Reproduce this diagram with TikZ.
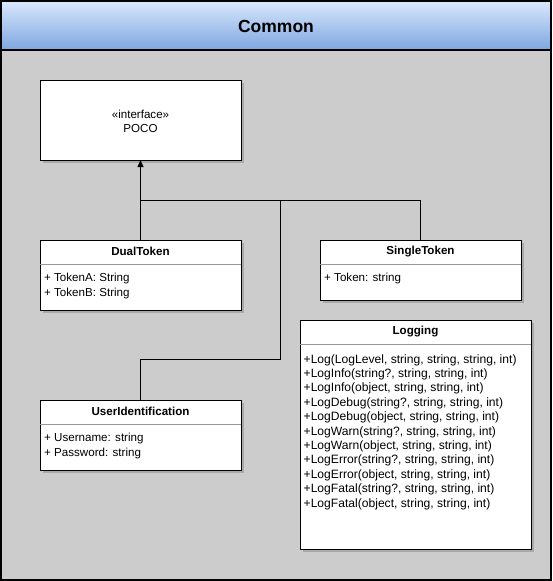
\documentclass[tikz,border=0pt]{standalone}
\usepackage{fontspec}
\setmainfont{Liberation Sans}
\usetikzlibrary{arrows.meta}
\definecolor{bg}{HTML}{CCCCCC}
\definecolor{hdtop}{HTML}{DAE8FC}
\definecolor{hdbot}{HTML}{7EA6E0}
\definecolor{shad}{HTML}{A9A9A9}
\definecolor{sep}{HTML}{999999}
\tikzset{
  cls/.style={draw=black, fill=white, line width=1pt},
  shadowbox/.style={fill=shad, draw=none},
  sepline/.style={draw=sep, line width=0.6pt},
  txt/.style={inner sep=0pt, font=\fontsize{11.6}{13}\selectfont},
  logtxt/.style={inner sep=0pt, font=\fontsize{12.1}{13}\selectfont},
  ttl/.style={inner sep=0pt, font=\fontsize{11.6}{13}\selectfont\bfseries},
  conn/.style={draw=black, line width=1pt},
}
\begin{document}
\begin{tikzpicture}[x=1pt, y=-1pt]
\useasboundingbox (0,0) rectangle (552,581);
% outer frame
\fill[bg] (0.75,0.75) rectangle (550.75,579.75);
\shade[top color=hdtop, bottom color=hdbot] (0.75,0.75) rectangle (550.75,50);
\draw[line width=1.5pt] (0.75,0.75) rectangle (550.75,579.75);
\draw[line width=1.5pt] (0.75,50) -- (550.75,50);
\node[inner sep=0pt, font=\fontsize{17.5}{20}\selectfont\bfseries] (title) at (276,26) {Common};

% shadows
\foreach \a/\b/\c/\d in {40/80/241/160, 40/240/241/310, 320/240/521/300, 300/320/531/549, 40/400/241/470}{
  \fill[shad] (\a+3,\b+3) rectangle (\c+3,\d+3);
}

% POCO
\draw[cls] (40,80) rectangle (241,160);
\node[inner sep=0pt, font=\fontsize{11.6}{13}\selectfont] (pocost) at (140.5,114) {«interface»};
\node[txt] (poco) at (140.5,128.5) {POCO};
\coordinate (pocob) at (140.5,160);

% DualToken
\draw[cls] (40,240) rectangle (241,310);
\draw[sepline] (40,264) -- (241,264);
\node[ttl] (dual) at (140.5,251.5) {DualToken};
\node[txt, anchor=west] (da) at (44,278) {+ TokenA: String};
\node[txt, anchor=west] (db) at (44,293) {+ TokenB: String};
\coordinate (dualt) at (140.5,240);

% SingleToken
\draw[cls] (320,240) rectangle (521,300);
\draw[sepline] (320,264) -- (521,264);
\node[ttl] (single) at (420.5,251.5) {SingleToken};
\node[txt, anchor=west] (sa) at (324,278) {+ Token: string};
\coordinate (singlet) at (420.5,240);

% UserIdentification
\draw[cls] (40,400) rectangle (241,470);
\draw[sepline] (40,424) -- (241,424);
\node[ttl] (user) at (140.5,411.5) {UserIdentification};
\node[txt, anchor=west] (ua) at (44,438) {+ Username: string};
\node[txt, anchor=west] (ub) at (44,453) {+ Password: string};
\coordinate (usert) at (140.5,400);

% Logging
\draw[cls] (300,320) rectangle (531,549);
\draw[sepline] (300,344) -- (531,344);
\node[ttl] (logging) at (415.5,331.5) {Logging};
\foreach \t [count=\i from 0] in {
  {+Log(LogLevel, string, string, string, int)},
  {+LogInfo(string?, string, string, int)},
  {+LogInfo(object, string, string, int)},
  {+LogDebug(string?, string, string, int)},
  {+LogDebug(object, string, string, int)},
  {+LogWarn(string?, string, string, int)},
  {+LogWarn(object, string, string, int)},
  {+LogError(string?, string, string, int)},
  {+LogError(object, string, string, int)},
  {+LogFatal(string?, string, string, int)},
  {+LogFatal(object, string, string, int)}}{
  \node[logtxt, anchor=west] (lg\i) at (303.5,360+14.4*\i) {\t};
}

% connectors
\coordinate (j1) at (140.5,200);
\coordinate (j2) at (280.5,200);
\coordinate (j3) at (420.5,200);
\coordinate (j4) at (280.5,359);
\coordinate (j5) at (140.5,359);
\draw[conn, -{Triangle[length=7pt,width=6pt]}] (dualt) -- (j1) -- (pocob);
\draw[conn] (j1) -- (j3) -- (singlet);
\draw[conn] (usert) -- (j5) -- (j4) -- (j2);
\end{tikzpicture}
\end{document}
